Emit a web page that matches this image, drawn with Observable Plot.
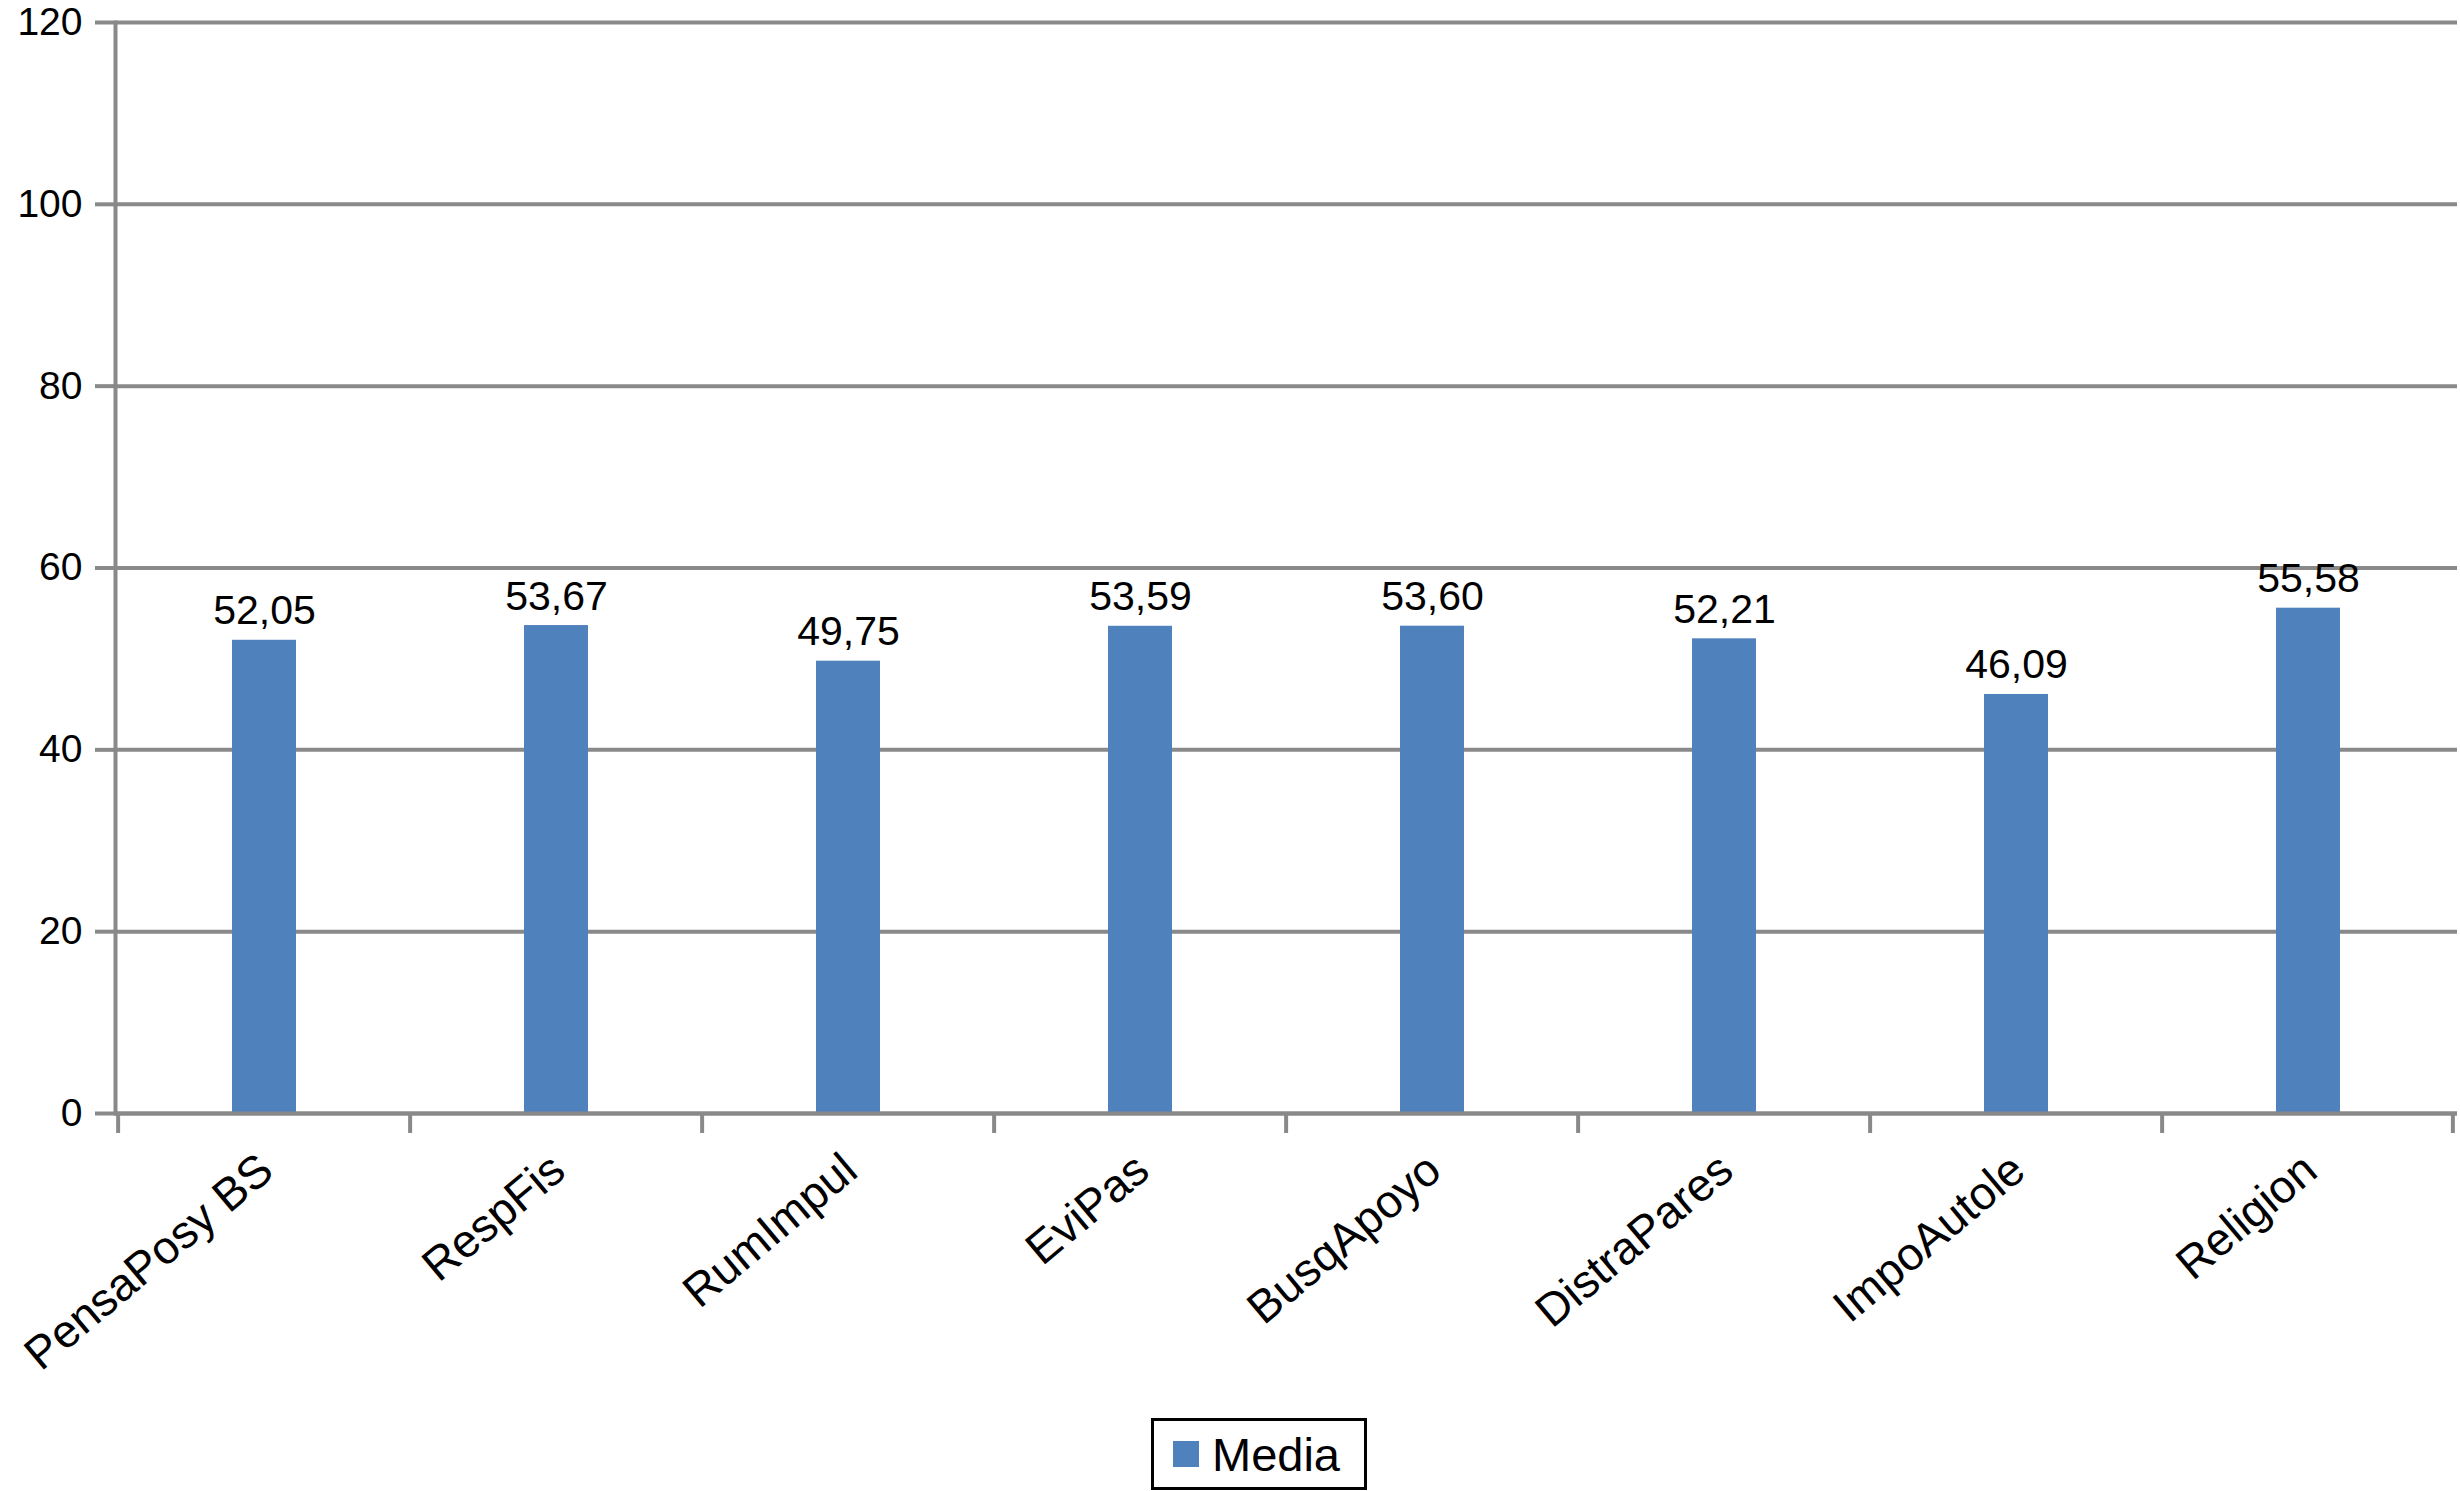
<!DOCTYPE html>
<html>
<head>
<meta charset="utf-8">
<script src="https://cdn.jsdelivr.net/npm/d3@7"></script>
<script src="https://cdn.jsdelivr.net/npm/@observablehq/plot@0.6"></script>
<style>
  html, body { margin: 0; padding: 0; background: #fff; }
  body { font-family: "Liberation Sans", Arial, Helvetica, sans-serif; }
  #wrap { position: relative; width: 2460px; height: 1491px; overflow: hidden; }
  #legend {
    position: absolute; left: 1151px; top: 1418px; width: 210px; height: 66px;
    border: 3px solid #000; background: #fff; display: flex; align-items: center;
    box-sizing: content-box;
  }
  #legend .sw { width: 26px; height: 26px; background: #4f81bd; margin-left: 19px; margin-right: 13px; }
  #legend .lb { font-size: 47px; color: #000; line-height: 1; }
</style>
</head>
<body>
<div id="wrap">
  <div id="chart"></div>
  <div id="legend"><div class="sw"></div><div class="lb">Media</div></div>
</div>
<script>
const categories = ["PensaPosy BS", "RespFis", "RumImpul", "EviPas", "BusqApoyo", "DistraPares", "ImpoAutole", "Religion"];
const values = [52.05, 53.67, 49.75, 53.59, 53.60, 52.21, 46.09, 55.58];
const yTicks = [0, 20, 40, 60, 80, 100, 120];
const seriesName = "Media";

const data = categories.map((c, i) => ({cat: c, value: values[i]}));
const fmt = v => v.toFixed(2).replace(".", ",");

const W = 2460, H = 1405, mL = 115, mR = 3, mT = 22, mB = 292;
const step = (W - mL - mR) / categories.length;
const gray = "#898989";

const chart = Plot.plot({
  width: W, height: H,
  marginLeft: mL, marginRight: mR, marginTop: mT, marginBottom: mB,
  style: {fontFamily: '"Liberation Sans", Arial, Helvetica, sans-serif', color: "#000", background: "#fff", overflow: "visible"},
  x: {domain: categories, paddingInner: 0.78, paddingOuter: 0.39, label: null},
  y: {domain: [0, 120], label: null},
  marks: [
    Plot.gridY(yTicks, {stroke: gray, strokeOpacity: 1, strokeWidth: 4}),
    Plot.barY(data, {x: "cat", y: "value", fill: "#4f81bd"}),
    Plot.ruleY([0], {stroke: gray, strokeWidth: 4}),
    Plot.frame({anchor: "left", stroke: gray, strokeWidth: 4}),
    Plot.ruleX(categories, {x: d => d, y1: 0, y2: 0, dx: -step / 2, insetBottom: -20, stroke: gray, strokeWidth: 4}),
    Plot.ruleX(categories.slice(-1), {x: d => d, y1: 0, y2: 0, dx: step / 2 - 2, insetBottom: -20, stroke: gray, strokeWidth: 4}),
    Plot.axisY(yTicks, {tickSize: 20, tickPadding: 13, stroke: gray, strokeWidth: 4, fontSize: 39, fill: "#000", tickFormat: d => d, label: null}),
    Plot.axisX({tickSize: 0, tickRotate: -40, tickPadding: 50, dx: 2, fontSize: 46, fill: "#000", label: null}),
    Plot.text(data, {x: "cat", y: "value", text: d => fmt(d.value), lineAnchor: "bottom", dy: -16, fontSize: 41, fill: "#000"})
  ]
});
document.getElementById("chart").appendChild(chart);
</script>
</body>
</html>
